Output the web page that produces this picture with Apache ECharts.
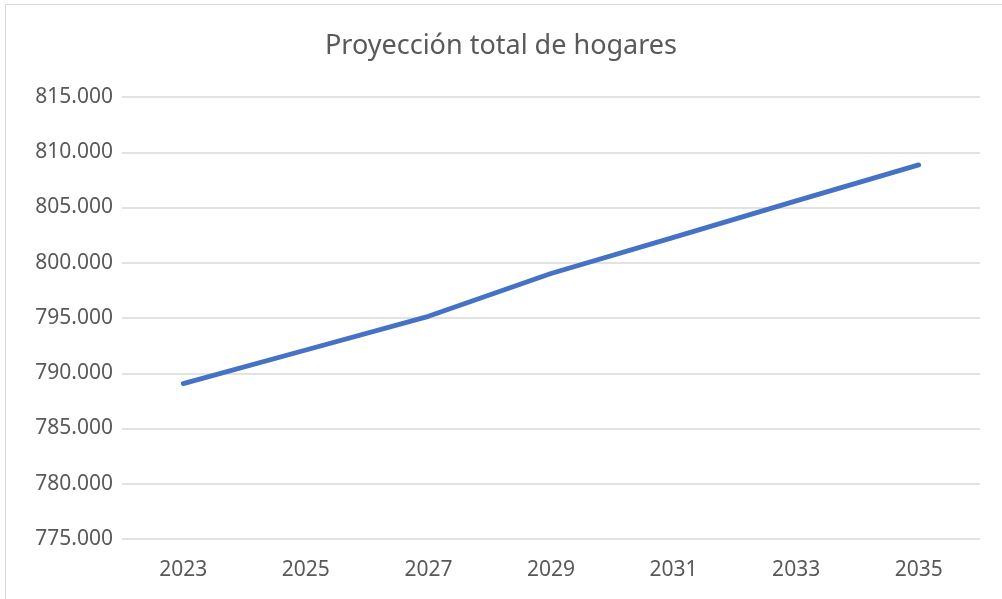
<!DOCTYPE html>
<html>
<head>
<meta charset="utf-8">
<script src="https://cdn.jsdelivr.net/npm/echarts@6/dist/echarts.min.js"></script>
<style>
  html, body { margin: 0; padding: 0; background: #fff; }
  #frame { position: absolute; left: 5px; top: 4px; width: 1010px; height: 620px; border: 1px solid #d9d9d9; }
  #myChart { position: absolute; left: 0; top: 0; width: 1002px; height: 599px; }
</style>
</head>
<body>
<div id="frame"></div>
<div id="myChart"></div>
<script>
// datos
const years = ['2023', '2025', '2027', '2029', '2031', '2033', '2035'];
const hogares = [789060, 792100, 795150, 799030, 802300, 805600, 808860];

const fontFam = '"Noto Sans", sans-serif';

let myChart = echarts.init(document.getElementById('myChart'));
myChart.setOption({
  animation: false,
  title: {
    text: 'Proyección total de hogares',
    left: 'center',
    top: 28,
    textStyle: { color: '#595959', fontSize: 27, fontWeight: 'normal', fontFamily: fontFam }
  },
  grid: { left: 122, right: 22, top: 97, bottom: 60 },
  xAxis: {
    type: 'category',
    data: years,
    boundaryGap: true,
    axisLine: { show: false },
    axisTick: { show: false },
    axisLabel: { color: '#595959', fontSize: 21, margin: 21, fontFamily: fontFam }
  },
  yAxis: {
    type: 'value',
    min: 775000,
    max: 815000,
    interval: 5000,
    axisLine: { show: false },
    axisTick: { show: false },
    splitLine: { lineStyle: { color: '#d9d9d9', width: 1.5 } },
    axisLabel: {
      color: '#595959', fontSize: 21, margin: 9, fontFamily: fontFam,
      formatter: v => String(v / 1000) + '.000'
    }
  },
  series: [{
    name: 'Hogares',
    type: 'line',
    data: hogares,
    symbol: 'none',
    lineStyle: { color: '#4472C4', width: 4.8, cap: 'round', join: 'round' }
  }]
});
</script>
</body>
</html>
